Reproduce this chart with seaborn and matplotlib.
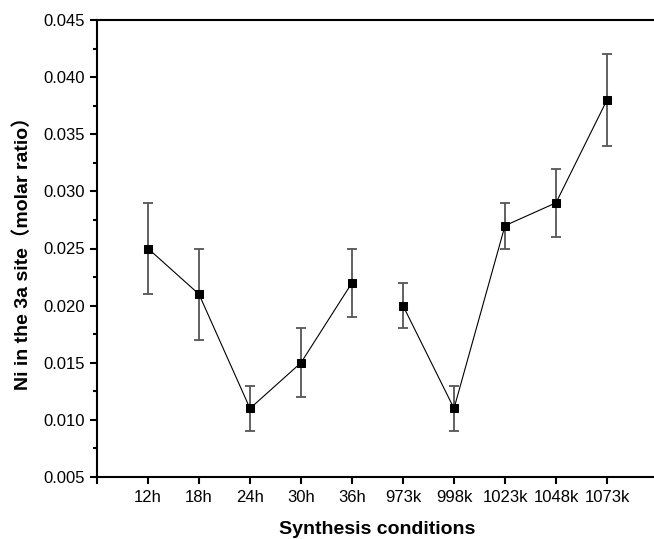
import numpy as np
import pandas as pd
import seaborn as sns
import matplotlib
matplotlib.use('Agg')
import matplotlib.pyplot as plt
from matplotlib.ticker import MultipleLocator

conditions = ['12h', '18h', '24h', '30h', '36h', '973k', '998k', '1023k', '1048k', '1073k']
ni_ratio = [0.025, 0.021, 0.011, 0.015, 0.022, 0.020, 0.011, 0.027, 0.029, 0.038]
err_upper = [0.004, 0.004, 0.002, 0.003, 0.003, 0.002, 0.002, 0.002, 0.003, 0.004]
err_lower = [0.004, 0.004, 0.002, 0.003, 0.003, 0.002, 0.002, 0.002, 0.003, 0.004]
series = ['time'] * 5 + ['temperature'] * 5

sns.set_style('ticks')
plt.rcParams['font.family'] = ['Liberation Sans', 'Noto Sans CJK SC', 'DejaVu Sans']
plt.rcParams['text.color'] = 'black'
plt.rcParams['axes.labelcolor'] = 'black'
plt.rcParams['xtick.color'] = 'black'
plt.rcParams['ytick.color'] = 'black'

df = pd.DataFrame({
    'pos': np.arange(1, len(conditions) + 1),
    'val': ni_ratio,
    'series': series,
})

fig = plt.figure(figsize=(6.54, 5.39), dpi=100)
ax = fig.add_axes([97 / 654, 62 / 539, 561 / 654, 457 / 539])

ax.errorbar(df['pos'], df['val'], yerr=[err_lower, err_upper], fmt='none',
            ecolor='#555555', elinewidth=1.3, capsize=3.3, capthick=1.3, zorder=2)
sns.lineplot(data=df, x='pos', y='val', units='series', estimator=None,
             color='black', linewidth=0.8, marker='s', markersize=6,
             markeredgecolor='black', ax=ax, zorder=3)

ax.set_xlim(0, 11)
ax.set_xticks(np.arange(0, len(conditions) + 1))
ax.set_xticklabels([''] + conditions, fontsize=12)
yticks = np.arange(0.005, 0.0451, 0.005)
ax.set_yticks(yticks)
ax.set_yticklabels([f'{v:.3f}' for v in yticks], fontsize=12)
ax.yaxis.set_minor_locator(MultipleLocator(0.0025))
ax.set_ylim(0.005, 0.045)

ax.tick_params(axis='both', direction='out', length=5, width=1.5, colors='black', pad=4)
ax.tick_params(axis='y', which='minor', direction='out', length=3, width=1.5)
ax.tick_params(axis='x', which='minor', bottom=False)
for side in ['left', 'bottom', 'top']:
    ax.spines[side].set_linewidth(1.5)
    ax.spines[side].set_color('black')
ax.spines['right'].set_visible(False)

ax.set_xlabel('Synthesis conditions', fontsize=14, fontweight='bold', labelpad=12, color='black')
ax.set_ylabel('Ni in the 3a site（molar ratio）', fontsize=14, fontweight='bold', labelpad=8, color='black')

fig.savefig('out.png', dpi=100)
